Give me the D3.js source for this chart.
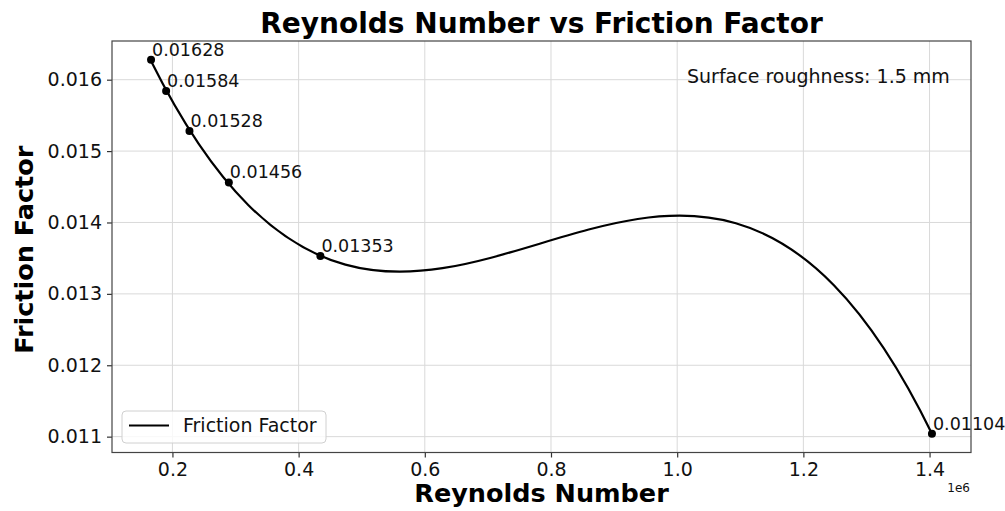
<!DOCTYPE html>
<html>
<head>
<meta charset="utf-8">
<script src="https://cdn.jsdelivr.net/npm/d3@7"></script>
<style>
  html, body { margin: 0; padding: 0; background: #fff; }
  svg { display: block; font-family: "DejaVu Sans", sans-serif; }
</style>
</head>
<body>
<svg id="chart" width="1005" height="511"></svg>
<script>
// Measured friction factor at each Reynolds number
const reynolds = [166100, 190000, 227000, 289400, 434500, 1403800];
const friction = [0.01628, 0.01584, 0.01528, 0.01456, 0.01353, 0.01104];
const labels = ["0.01628", "0.01584", "0.01528", "0.01456", "0.01353", "0.01104"];
const xTicks = [200000, 400000, 600000, 800000, 1000000, 1200000, 1400000];
const yTicks = [0.011, 0.012, 0.013, 0.014, 0.015, 0.016];

const plot = { left: 112, right: 971, top: 41, bottom: 452.5 };

// Least-squares cubic trend through the points, drawn as one exact Bezier segment
function CubicFit(context) { this._context = context; }
CubicFit.prototype = {
  areaStart() {}, areaEnd() {},
  lineStart() { this._x = []; this._y = []; },
  point(x, y) { this._x.push(+x); this._y.push(+y); },
  lineEnd() {
    const xs = this._x, ys = this._y, n = xs.length, ctx = this._context;
    if (n < 4) { xs.forEach((v, i) => i ? ctx.lineTo(v, ys[i]) : ctx.moveTo(v, ys[i])); return; }
    const x0 = d3.min(xs), x1 = d3.max(xs), mid = (x0 + x1) / 2, half = (x1 - x0) / 2;
    const u = xs.map(v => (v - mid) / half);
    // normal equations for coefficients of 1, u, u^2, u^3
    const A = Array.from({ length: 4 }, () => new Array(4).fill(0));
    const b = new Array(4).fill(0);
    u.forEach((ui, k) => {
      for (let i = 0; i < 4; i++) {
        b[i] += ys[k] * ui ** i;
        for (let j = 0; j < 4; j++) A[i][j] += ui ** (i + j);
      }
    });
    for (let c = 0; c < 4; c++) {
      let p = c;
      for (let r = c + 1; r < 4; r++) if (Math.abs(A[r][c]) > Math.abs(A[p][c])) p = r;
      [A[c], A[p]] = [A[p], A[c]]; [b[c], b[p]] = [b[p], b[c]];
      for (let r = c + 1; r < 4; r++) {
        const f = A[r][c] / A[c][c];
        for (let k = c; k < 4; k++) A[r][k] -= f * A[c][k];
        b[r] -= f * b[c];
      }
    }
    const a = new Array(4).fill(0);
    for (let r = 3; r >= 0; r--) {
      let s = b[r];
      for (let k = r + 1; k < 4; k++) s -= A[r][k] * a[k];
      a[r] = s / A[r][r];
    }
    const val = t => a[0] + a[1] * t + a[2] * t * t + a[3] * t * t * t;
    const der = t => (a[1] + 2 * a[2] * t + 3 * a[3] * t * t) / half;
    const H = x1 - x0;
    ctx.moveTo(x0, val(-1));
    ctx.bezierCurveTo(x0 + H / 3, val(-1) + H * der(-1) / 3,
      x1 - H / 3, val(1) - H * der(1) / 3, x1, val(1));
  }
};
const curveCubicFit = ctx => new CubicFit(ctx);

const pad = (lo, hi) => [lo - (hi - lo) * 0.05, hi + (hi - lo) * 0.05];
const x = d3.scaleLinear().domain(pad(d3.min(reynolds), d3.max(reynolds))).range([plot.left, plot.right]);
const y = d3.scaleLinear().domain(pad(d3.min(friction), d3.max(friction))).range([plot.bottom, plot.top]);

const svg = d3.select("#chart");
const data = reynolds.map((r, i) => ({ r, f: friction[i], label: labels[i] }));

// grid
const grid = svg.append("g").attr("stroke", "#d9d9d9").attr("stroke-width", 1);
grid.selectAll("line.gx").data(xTicks).join("line")
  .attr("x1", d => x(d)).attr("x2", d => x(d)).attr("y1", plot.top).attr("y2", plot.bottom);
grid.selectAll("line.gy").data(yTicks).join("line")
  .attr("y1", d => y(d)).attr("y2", d => y(d)).attr("x1", plot.left).attr("x2", plot.right);

// axes
const xAxis = svg.append("g").attr("transform", `translate(0,${plot.bottom})`)
  .call(d3.axisBottom(x).tickValues(xTicks).tickFormat(d => (d / 1e6).toFixed(1)).tickSizeOuter(0).tickSize(5).tickPadding(5));
const yAxis = svg.append("g").attr("transform", `translate(${plot.left},0)`)
  .call(d3.axisLeft(y).tickValues(yTicks).tickFormat(d => d.toFixed(3)).tickSizeOuter(0).tickSize(5).tickPadding(5));
[xAxis, yAxis].forEach(g => {
  g.select(".domain").remove();
  g.selectAll(".tick line").attr("stroke", "#333").attr("stroke-width", 1.2);
  g.selectAll(".tick text").attr("font-family", "DejaVu Sans").attr("font-size", 19).attr("fill", "#111");
});

// frame
svg.append("rect").attr("x", plot.left).attr("y", plot.top)
  .attr("width", plot.right - plot.left).attr("height", plot.bottom - plot.top)
  .attr("fill", "none").attr("stroke", "#444").attr("stroke-width", 1.2);

// fitted curve
const line = d3.line().x(d => x(d.r)).y(d => y(d.f)).curve(curveCubicFit);
svg.append("path").datum(data).attr("d", line)
  .attr("fill", "none").attr("stroke", "#000").attr("stroke-width", 2.2);

// points and value labels
svg.selectAll("circle.pt").data(data).join("circle").attr("class", "pt")
  .attr("cx", d => x(d.r)).attr("cy", d => y(d.f)).attr("r", 4).attr("fill", "#000");
svg.selectAll("text.val").data(data).join("text").attr("class", "val")
  .attr("x", d => x(d.r) + 1).attr("y", d => y(d.f) - 4)
  .attr("font-size", 17.5).attr("fill", "#111").text(d => d.label);

// note
svg.append("text").attr("x", 687).attr("y", 83).attr("font-size", 19).attr("fill", "#111")
  .text("Surface roughness: 1.5 mm");

// offset label
svg.append("text").attr("x", 970).attr("y", 492).attr("text-anchor", "end")
  .attr("font-size", 12).attr("fill", "#111").text("1e6");

// titles
svg.append("text").attr("x", (plot.left + plot.right) / 2).attr("y", 33).attr("text-anchor", "middle")
  .attr("font-size", 28).attr("font-weight", "bold").text("Reynolds Number vs Friction Factor");
svg.append("text").attr("x", (plot.left + plot.right) / 2).attr("y", 502).attr("text-anchor", "middle")
  .attr("font-size", 25.5).attr("font-weight", "bold").text("Reynolds Number");
svg.append("text").attr("transform", `translate(33,${(plot.top + plot.bottom) / 2 + 3}) rotate(-90)`)
  .attr("text-anchor", "middle").attr("font-size", 25.5).attr("font-weight", "bold").text("Friction Factor");

// legend
const leg = svg.append("g");
leg.append("rect").attr("x", 122).attr("y", 411).attr("width", 204).attr("height", 32).attr("rx", 4)
  .attr("fill", "#fff").attr("fill-opacity", 0.8).attr("stroke", "#d0d0d0");
leg.append("line").attr("x1", 129).attr("x2", 169).attr("y1", 425.5).attr("y2", 425.5)
  .attr("stroke", "#000").attr("stroke-width", 2.2);
leg.append("text").attr("x", 183).attr("y", 432).attr("font-size", 19).attr("fill", "#111").text("Friction Factor");
</script>
</body>
</html>
